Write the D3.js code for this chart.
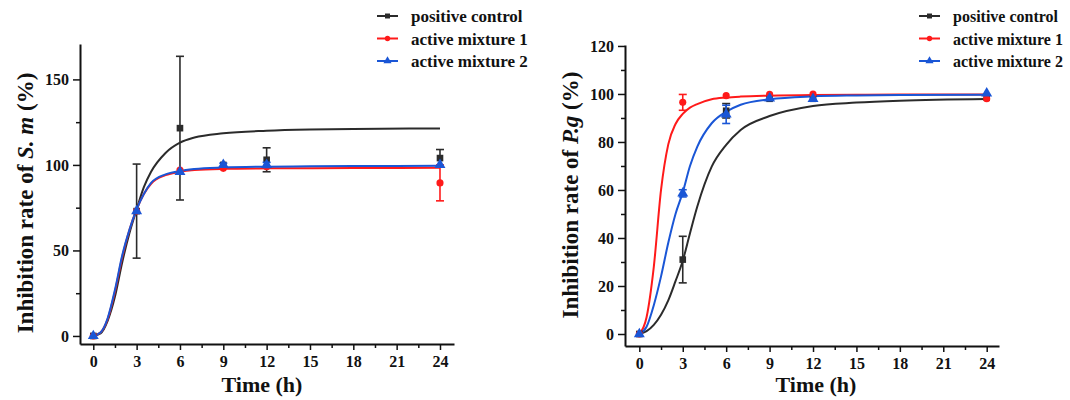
<!DOCTYPE html>
<html lang="en">
<head>
    <meta charset="UTF-8">
    <title>Inhibition rate vs time</title>
    <style>
        body { margin: 0; background: #fff; }
        svg { display: block; }
        text { font-family: "Liberation Serif", "Times New Roman", serif; font-weight: bold; fill: #111; }
        .axis path, .axis line { stroke: #111; }
        .axis path { stroke-width: 2; }
        .axis line { stroke-width: 1.5; }
    </style>
</head>
<body>
    <script src="https://d3js.org/d3.v7.min.js"></script>
    <script>
        // sampling times (h)
        var times = [0, 3, 6, 9, 12, 24];
        var seriesNames = ["positive control", "active mixture 1", "active mixture 2"];
        var colors = ["#2b2b2b", "#ff1a1a", "#1a56d6"];

        // left panel : S. m
        var smControl = [0, 73, 121.5, 100, 103, 104];
        var smControlErr = [0, 27.5, 42, 0, 7, 5];
        var smMix1 = [0, 73, 97, 98, 99, 89.5];
        var smMix1Err = [0, 0, 0, 0, 0, 10.5];
        var smMix2 = [0, 73, 96, 100, 100, 100];
        var smMix2Err = [0, 0, 0, 1, 1.5, 0];

        // right panel : P.g
        var pgControl = [0, 31, 93, 98, 98, 98.5];
        var pgControlErr = [0, 9.7, 3, 0, 0, 0];
        var pgMix1 = [0, 96.5, 99.3, 99.9, 100, 98];
        var pgMix1Err = [0, 3.3, 0, 0, 0, 0];
        var pgMix2 = [0, 58.6, 91.5, 98.2, 98, 100.3];
        var pgMix2Err = [0, 1.5, 3.8, 0, 0, 0];

        // fitted curves
        var curveT = [0, 0.5, 1, 1.5, 2, 2.5, 3, 3.5, 4, 5, 6, 7, 9, 12, 15, 18, 24];
        var smControlFit = [0, 1.5, 9, 23, 43, 60, 74, 87, 96, 107, 113, 116, 118.5, 120, 120.7, 121, 121.3];
        var smMix1Fit = [0, 2, 10, 26, 46, 62, 74, 83, 89, 94, 96, 97, 97.7, 98, 98.1, 98.2, 98.3];
        var smMix2Fit = [0, 2, 10.5, 27, 47, 62, 74, 83, 89.5, 94.5, 96.5, 97.6, 98.5, 99, 99.2, 99.3, 99.5];
        var pgControlFit = [0, 1.2, 3.8, 8, 14, 22, 30.5, 42, 53, 69.7, 78.8, 85, 90.8, 95, 96.4, 97.2, 97.9];
        var pgMix1Fit = [0, 7, 28, 60, 79, 87.5, 91.7, 94.3, 95.8, 97.8, 98.5, 98.9, 99.3, 99.6, 99.7, 99.8, 99.8];
        var pgMix2Fit = [0, 3, 12, 24, 38, 50, 59, 70, 78, 87.8, 92.6, 95.5, 97.8, 99, 99.4, 99.6, 99.7];

        var xTicks = [0, 3, 6, 9, 12, 15, 18, 21, 24];

        var width = 1070, height = 400;
        var svg = d3.select("body").append("svg")
            .attr("width", width)
            .attr("height", height);

        function styleTicks(sel) {
            sel.attr("font-family", null).attr("font-size", null);
            sel.selectAll("text")
                .style("font-family", "'Liberation Serif', 'Times New Roman', serif")
                .style("font-weight", "bold")
                .style("font-size", "16px")
                .attr("fill", "#111");
        }

        function drawPanel(opt) {
            var x = d3.scaleLinear().domain(opt.xDomain).range(opt.xRange);
            var y = d3.scaleLinear().domain(opt.yDomain).range(opt.yRange);
            var g = svg.append("g");

            // minor ticks first
            var xMinor = d3.range(0, 24.1, 1.5).filter(function(d) { return d % 3 !== 0; });
            g.append("g").attr("class", "axis")
                .attr("transform", "translate(0," + opt.yRange[0] + ")")
                .call(d3.axisBottom(x).tickValues(xMinor).tickSize(4).tickSizeOuter(0).tickFormat(""))
                .select(".domain").remove();
            g.append("g").attr("class", "axis")
                .attr("transform", "translate(" + opt.xRange[0] + ",0)")
                .call(d3.axisLeft(y).tickValues(opt.yMinor).tickSize(4).tickSizeOuter(0).tickFormat(""))
                .select(".domain").remove();

            g.append("g").attr("class", "axis")
                .attr("transform", "translate(0," + opt.yRange[0] + ")")
                .call(d3.axisBottom(x).tickValues(xTicks).tickSize(6).tickPadding(6).tickSizeOuter(0))
                .call(styleTicks);
            g.append("g").attr("class", "axis")
                .attr("transform", "translate(" + opt.xRange[0] + ",0)")
                .call(d3.axisLeft(y).tickValues(opt.yTicks).tickSize(7).tickPadding(4).tickSizeOuter(0))
                .call(styleTicks);

            var line = d3.line()
                .x(function(d) { return x(d[0]); })
                .y(function(d) { return y(d[1]); })
                .curve(d3.curveMonotoneX);

            opt.fits.forEach(function(fit, i) {
                g.append("path")
                    .attr("d", line(d3.zip(curveT, fit)))
                    .attr("fill", "none")
                    .attr("stroke", colors[i])
                    .attr("stroke-width", 2);
            });

            opt.means.forEach(function(vals, i) {
                var errs = opt.errs[i];
                var eg = g.append("g").attr("stroke", colors[i]).attr("stroke-width", 1.6);
                times.forEach(function(t, j) {
                    if (!errs[j]) return;
                    var cx = x(t), y1 = y(vals[j] + errs[j]), y2 = y(vals[j] - errs[j]);
                    eg.append("line").attr("x1", cx).attr("x2", cx).attr("y1", y1).attr("y2", y2);
                    eg.append("line").attr("x1", cx - 4).attr("x2", cx + 4).attr("y1", y1).attr("y2", y1);
                    eg.append("line").attr("x1", cx - 4).attr("x2", cx + 4).attr("y1", y2).attr("y2", y2);
                });
                g.selectAll(null).data(times).enter().append("path")
                    .attr("transform", function(t, j) { return "translate(" + x(t) + "," + y(vals[j]) + ")"; })
                    .attr("d", markerPath(i, 1))
                    .attr("fill", colors[i]);
            });

            // axis titles
            svg.append("text")
                .attr("x", opt.xTitle[0]).attr("y", opt.xTitle[1])
                .attr("text-anchor", "middle")
                .style("font-size", "22px")
                .text("Time (h)");

            var yt = svg.append("text")
                .attr("transform", "translate(" + opt.yTitle[0] + "," + opt.yTitle[1] + ") rotate(-90)")
                .attr("text-anchor", "middle")
                .style("font-size", "23px");
            yt.append("tspan").text("Inhibition rate of ");
            yt.append("tspan").style("font-style", "italic").text(opt.organism);
            yt.append("tspan").text(" (%)");

            // legend
            var lg = svg.append("g").attr("transform", "translate(" + opt.legend[0] + "," + opt.legend[1] + ")");
            seriesNames.forEach(function(name, i) {
                var row = lg.append("g").attr("transform", "translate(0," + (i * 22.5) + ")");
                row.append("line").attr("x1", 0).attr("x2", 21).attr("y1", 0).attr("y2", 0)
                    .attr("stroke", colors[i]).attr("stroke-width", 2);
                row.append("path").attr("transform", "translate(10.5,0)")
                    .attr("d", markerPath(i, 0.75)).attr("fill", colors[i]);
                row.append("text").attr("x", 34).attr("y", 6).style("font-size", opt.legendFont).text(name);
            });
        }

        function markerPath(i, k) {
            if (i === 0) return d3.symbol(d3.symbolSquare, 44 * k * k)();
            if (i === 1) return d3.symbol(d3.symbolCircle, 40 * k * k)();
            return d3.symbol(d3.symbolTriangle, 52 * k * k)();
        }

        drawPanel({
            xDomain: [-0.92, 24.97], xRange: [80, 454],
            yDomain: [-4.7, 170.7], yRange: [344, 44],
            yTicks: [0, 50, 100, 150], yMinor: [25, 75, 125],
            means: [smControl, smMix1, smMix2],
            errs: [smControlErr, smMix1Err, smMix2Err],
            fits: [smControlFit, smMix1Fit, smMix2Fit],
            organism: "S. m",
            xTitle: [262, 392], yTitle: [33, 203],
            legend: [377, 16], legendFont: "17px"
        });

        drawPanel({
            xDomain: [-0.99, 24.85], xRange: [625, 999],
            yDomain: [-5, 120.4], yRange: [346, 45],
            yTicks: [0, 20, 40, 60, 80, 100, 120], yMinor: [10, 30, 50, 70, 90, 110],
            means: [pgControl, pgMix1, pgMix2],
            errs: [pgControlErr, pgMix1Err, pgMix2Err],
            fits: [pgControlFit, pgMix1Fit, pgMix2Fit],
            organism: "P.g",
            xTitle: [816, 392], yTitle: [578, 195],
            legend: [919, 16], legendFont: "16px"
        });
    </script>
</body>
</html>
